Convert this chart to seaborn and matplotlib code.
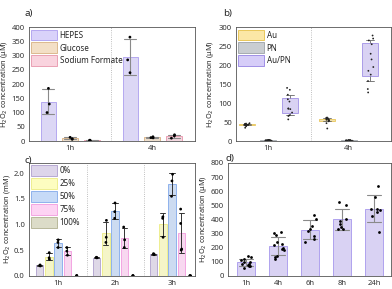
import numpy as np
import pandas as pd
import matplotlib
matplotlib.use("Agg")
import matplotlib.pyplot as plt
from matplotlib.patches import Patch
import seaborn as sns

# ---- a) sacrificial agents, 1h / 4h (uM)
a_times = ["1h", "4h"]
a_agents = ["HEPES", "Glucose", "Sodium Formate"]
hepes_1h, hepes_4h = [185, 130, 100], [365, 285, 240]
glucose_1h, glucose_4h = [13, 8, 6], [15, 12, 11]
formate_1h, formate_4h = [3, 1, 2], [22, 10, 18]

# ---- b) catalysts, boxplots (uM)
b_times = ["1h", "4h"]
b_cats = ["Au", "PN", "Au/PN"]
au_1h = [35, 39, 41, 42, 42, 43, 43, 44, 45, 45, 46, 47]
au_4h = [33, 47, 52, 54, 55, 56, 56, 57, 58, 60, 61, 62]
pn_1h = [0, 1, 1, 2, 2, 2, 3, 3, 1, 2, 1, 2]
pn_4h = [0, 1, 1, 1, 2, 2, 2, 3, 1, 2, 1, 1]
aupn_1h = [57, 66, 68, 75, 84, 85, 86, 104, 110, 122, 135, 140]
aupn_4h = [128, 137, 158, 175, 185, 195, 215, 230, 255, 265, 270, 278]

# ---- c) loading series (mM)
c_times = ["1h", "2h", "3h"]
c_levels = ["0%", "25%", "50%", "75%", "100%"]
c_pts = {
    "0%": [[0.21, 0.20, 0.19], [0.35, 0.36, 0.35], [0.43, 0.42, 0.41]],
    "25%": [[0.45, 0.35, 0.32], [1.08, 0.75, 0.65], [1.15, 1.12, 0.75]],
    "50%": [[0.70, 0.65, 0.55], [1.42, 1.25, 1.12], [1.98, 1.85, 1.55]],
    "75%": [[0.55, 0.48, 0.40], [0.95, 0.70, 0.55], [1.30, 1.02, 0.52, 0.50]],
    "100%": [[0, 0, 0], [0, 0, 0], [0, 0, 0]],
}

# ---- d) time course (uM)
d_times = ["1h", "4h", "6h", "8h", "24h"]
d_1h = [138, 132, 118, 110, 100, 95, 85, 80, 76, 72, 70, 58]
d_4h = [310, 300, 290, 240, 225, 215, 200, 190, 180, 140, 130, 120]
d_6h = [430, 400, 355, 330, 320, 280, 260, 240]
d_8h = [520, 505, 400, 390, 370, 345, 335, 330]
d_24h = [640, 560, 475, 470, 465, 455, 425, 310]

a_face = ["#d9d2fa", "#f3dfc6", "#f9d3de"]
a_edge = ["#b5a8f0", "#dcb98f", "#eaa0b4"]
b_face = ["#fbe7a6", "#c9cdd1", "#d6cdf8"]
b_edge = ["#e9c75a", "#a6abb0", "#a090e6"]
c_face = ["#ddd5ea", "#fdfdc0", "#c6daf7", "#fdd3f3", "#dcdcc8"]
c_edge = ["#b7a9d2", "#eeee90", "#8fb2ec", "#f3a5e2", "#b8b89a"]
d_face, d_edge = "#d6cdf8", "#b0a2ee"


def long_df(groups, xname, hname):
    rows = []
    for (x, h), vals in groups.items():
        for v in vals:
            rows.append({xname: x, hname: h, "val": v})
    return pd.DataFrame(rows)


def style_axes(ax):
    for s in ax.spines.values():
        s.set_color("#555555")
        s.set_linewidth(0.6)
    ax.tick_params(labelsize=5.5, length=2, width=0.5, pad=1, colors="#333333")


def recolor(ax, edges):
    for cont, ec in zip(ax.containers, edges):
        for bar in cont:
            bar.set_edgecolor(ec)
            bar.set_linewidth(0.7)


def legend(ax, labels, faces, edges):
    hs = [Patch(facecolor=f, edgecolor=e, linewidth=0.7) for f, e in zip(faces, edges)]
    ax.legend(hs, labels, loc="upper left", frameon=False, fontsize=5.8,
              handlelength=3.2, handleheight=1.7, labelspacing=0.25,
              handletextpad=0.3, borderaxespad=0.2, borderpad=0.1)


np.random.seed(3)
sns.set_style("white")
plt.rcParams["font.family"] = ["Noto Sans", "DejaVu Sans"]
fig = plt.figure(figsize=(3.92, 2.89), dpi=100)
ax_a = fig.add_axes([0.074, 0.512, 0.423, 0.394])
ax_b = fig.add_axes([0.602, 0.512, 0.395, 0.394])
ax_c = fig.add_axes([0.074, 0.046, 0.423, 0.39])
ax_d = fig.add_axes([0.582, 0.046, 0.416, 0.39])

ylab_uM = "H$_2$O$_2$ concentration (μM)"

# ---------- a)
df_a = long_df({("1h", "HEPES"): hepes_1h, ("4h", "HEPES"): hepes_4h,
                ("1h", "Glucose"): glucose_1h, ("4h", "Glucose"): glucose_4h,
                ("1h", "Sodium Formate"): formate_1h, ("4h", "Sodium Formate"): formate_4h},
               "time", "agent")
sns.barplot(data=df_a, x="time", y="val", hue="agent", order=a_times, hue_order=a_agents,
            palette=a_face, errorbar="sd", capsize=0.45, gap=0.3, ax=ax_a, legend=False,
            err_kws={"color": "#8a8a8a", "linewidth": 0.8})
recolor(ax_a, a_edge)
sns.stripplot(data=df_a, x="time", y="val", hue="agent", order=a_times, hue_order=a_agents,
              palette=["black"] * 3, dodge=True, jitter=0.1, size=2, ax=ax_a, legend=False)
ax_a.set_xlim(-0.5, 1.52)
ax_a.set_ylim(0, 400)
ax_a.set_yticks(range(0, 401, 50))
ax_a.axvline(0.5, color="#aaaaaa", ls=":", lw=0.6)
legend(ax_a, a_agents, a_face, a_edge)

# ---------- b)
df_b = long_df({("1h", "Au"): au_1h, ("4h", "Au"): au_4h,
                ("1h", "PN"): pn_1h, ("4h", "PN"): pn_4h,
                ("1h", "Au/PN"): aupn_1h, ("4h", "Au/PN"): aupn_4h},
               "time", "cat")
sns.boxplot(data=df_b, x="time", y="val", hue="cat", order=b_times, hue_order=b_cats,
            palette=b_face, whis=(10, 90), showfliers=False, gap=0.25, linewidth=0.6,
            linecolor="#666666", medianprops={"linewidth": 0}, ax=ax_b, legend=False)
for p, ec in zip(ax_b.patches, [e for e in b_edge for _ in b_times]):
    p.set_edgecolor(ec)
sns.stripplot(data=df_b, x="time", y="val", hue="cat", order=b_times, hue_order=b_cats,
              palette=["#222222"] * 3, dodge=True, jitter=0.12, size=1.3, ax=ax_b, legend=False)
ax_b.set_xlim(-0.4, 1.52)
ax_b.set_ylim(0, 300)
ax_b.set_yticks(range(0, 301, 50))
ax_b.axvline(0.53, color="#aaaaaa", ls=":", lw=0.6)
legend(ax_b, b_cats, b_face, b_edge)

# ---------- c)
c_groups = {}
for lvl in c_levels:
    for t, vals in zip(c_times, c_pts[lvl]):
        c_groups[(t, lvl)] = vals
df_c = long_df(c_groups, "time", "load")
sns.barplot(data=df_c, x="time", y="val", hue="load", order=c_times, hue_order=c_levels,
            palette=c_face, errorbar="sd", capsize=0.45, gap=0.2, ax=ax_c, legend=False,
            err_kws={"color": "#333333", "linewidth": 0.7})
recolor(ax_c, c_edge)
sns.stripplot(data=df_c, x="time", y="val", hue="load", order=c_times, hue_order=c_levels,
              palette=["black"] * 5, dodge=True, jitter=0.05, size=2, ax=ax_c, legend=False)
ax_c.set_xlim(-0.51, 2.4)
ax_c.set_ylim(0, 2.2)
ax_c.set_yticks([0, 0.5, 1.0, 1.5, 2.0])
for xv in (0.5, 1.5):
    ax_c.axvline(xv, color="#aaaaaa", ls=":", lw=0.6)
legend(ax_c, c_levels, c_face, c_edge)

# ---------- d)
df_d = long_df({("t", h): v for h, v in zip(d_times, [d_1h, d_4h, d_6h, d_8h, d_24h])},
               "g", "time")
sns.barplot(data=df_d, x="time", y="val", order=d_times, color=d_face, errorbar="sd",
            capsize=0.45, width=0.55, ax=ax_d, err_kws={"color": "#8a8a8a", "linewidth": 0.8})
recolor(ax_d, [d_edge])
sns.stripplot(data=df_d, x="time", y="val", order=d_times, color="black", jitter=0.18,
              size=2, ax=ax_d)
ax_d.set_xlim(-0.56, 4.53)
ax_d.set_ylim(0, 800)
ax_d.set_yticks(range(0, 801, 100))

for ax, lab in [(ax_a, ylab_uM), (ax_b, ylab_uM),
                (ax_c, "H$_2$O$_2$ concentration (mM)"), (ax_d, ylab_uM)]:
    style_axes(ax)
    ax.set_xlabel("")
    ax.set_ylabel(lab, fontsize=5.3, labelpad=1.5)

for txt, x, y in [("a)", 0.062, 0.955), ("b)", 0.570, 0.955),
                  ("c)", 0.062, 0.445), ("d)", 0.574, 0.453)]:
    fig.text(x, y, txt, fontsize=7, ha="left", va="center")

fig.savefig("out.png", dpi=100)
